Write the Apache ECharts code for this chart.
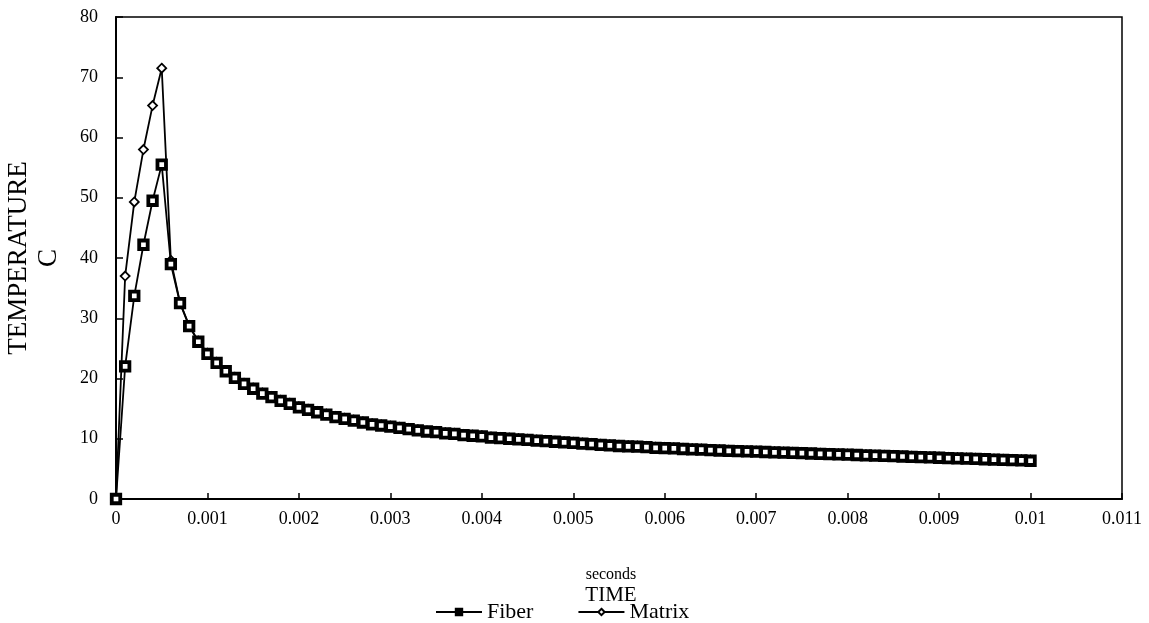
<!DOCTYPE html>
<html>
<head>
<meta charset="utf-8">
<script src="https://cdn.jsdelivr.net/npm/echarts@6/dist/echarts.min.js"></script>
<style>
  html, body { margin: 0; padding: 0; background: #fff; }
  #chart { width: 1149px; height: 623px; }
</style>
</head>
<body>
<div id="chart"></div>
<script>
// time step of the samples (seconds)
var timeStep = 0.0001;

// temperature (C), one value per 0.0001 s
var fiber = [
  0, 22.0, 33.7, 42.2, 49.5, 55.5, 39.0, 32.5, 28.7, 26.1,
  24.1, 22.6, 21.2, 20.1, 19.1, 18.3, 17.5, 16.9, 16.3, 15.8,
  15.2, 14.8, 14.4, 14.0, 13.6, 13.3, 13.0, 12.7, 12.4, 12.2,
  12.0, 11.8, 11.6, 11.4, 11.2, 11.1, 10.9, 10.8, 10.6, 10.5,
  10.4, 10.2, 10.1, 10.0, 9.9, 9.8, 9.7, 9.6, 9.5, 9.4,
  9.3, 9.2, 9.1, 9.0, 8.9, 8.8, 8.75, 8.7, 8.6, 8.5,
  8.45, 8.4, 8.3, 8.25, 8.2, 8.1, 8.05, 8.0, 7.95, 7.9,
  7.85, 7.8, 7.75, 7.7, 7.65, 7.6, 7.55, 7.5, 7.45, 7.4,
  7.35, 7.3, 7.25, 7.2, 7.15, 7.1, 7.05, 7.0, 6.95, 6.9,
  6.85, 6.8, 6.75, 6.7, 6.65, 6.6, 6.55, 6.5, 6.45, 6.4,
  6.35
];
var matrix = [
  0, 37.0, 49.3, 58.0, 65.3, 71.5, 39.6, 32.6, 28.8, 26.2,
  24.2, 22.7, 21.3, 20.2, 19.2, 18.4, 17.6, 17.0, 16.4, 15.9,
  15.3, 14.9, 14.5, 14.1, 13.7, 13.4, 13.1, 12.8, 12.5, 12.3,
  12.1, 11.9, 11.7, 11.5, 11.3, 11.2, 11.0, 10.9, 10.7, 10.6,
  10.5, 10.3, 10.2, 10.1, 10.0, 9.9, 9.8, 9.7, 9.6, 9.5,
  9.4, 9.3, 9.2, 9.1, 9.0, 8.9, 8.85, 8.8, 8.7, 8.6,
  8.55, 8.5, 8.4, 8.35, 8.3, 8.2, 8.15, 8.1, 8.05, 8.0,
  7.95, 7.9, 7.85, 7.8, 7.75, 7.7, 7.65, 7.6, 7.55, 7.5,
  7.45, 7.4, 7.35, 7.3, 7.25, 7.2, 7.15, 7.1, 7.05, 7.0,
  6.95, 6.9, 6.85, 6.8, 6.75, 6.7, 6.65, 6.6, 6.55, 6.5,
  6.45
];

function pairs(values) {
  return values.map(function (v, i) { return [+(i * timeStep).toFixed(4), v]; });
}

var font = '"Liberation Serif", "DejaVu Serif", serif';
var chart = echarts.init(document.getElementById('chart'));

chart.setOption({
  animation: false,
  textStyle: { fontFamily: font, color: '#000' },
  grid: {
    left: 116, right: 27, top: 17, bottom: 124,
    outerBoundsMode: 'none',
    containLabel: false,
    show: true, borderColor: '#000', borderWidth: 1.5, backgroundColor: '#fff'
  },
  legend: {
    bottom: -5,
    left: 430,
    itemWidth: 46,
    itemHeight: 8,
    itemGap: 44,
    textStyle: { fontFamily: font, fontSize: 22, color: '#000' },
    data: [
      { name: 'Fiber', itemStyle: { color: '#000', borderColor: '#000' } },
      { name: 'Matrix' }
    ]
  },
  xAxis: {
    type: 'value',
    min: 0,
    max: 0.011,
    interval: 0.001,
    name: '{a|seconds}\n{b|TIME}',
    nameLocation: 'middle',
    nameGap: 67,
    nameTextStyle: {
      padding: [0, 16, 0, 0],
      rich: {
        a: { fontFamily: font, fontSize: 16, color: '#000', lineHeight: 18 },
        b: { fontFamily: font, fontSize: 21, color: '#000', lineHeight: 22 }
      }
    },
    axisLine: { lineStyle: { color: '#000', width: 2 } },
    axisTick: { inside: true, length: 6, lineStyle: { color: '#000', width: 1.5 } },
    axisLabel: {
      fontFamily: font, fontSize: 18, color: '#000', margin: 11,
      formatter: function (v) { return String(+v.toFixed(3)); }
    },
    splitLine: { show: false }
  },
  yAxis: {
    type: 'value',
    min: 0,
    max: 80,
    interval: 10,
    name: '{a|TEMPERATURE}\n{b|C}',
    nameLocation: 'middle',
    nameRotate: 90,
    nameGap: 52,
    nameTextStyle: {
      rich: {
        a: { fontFamily: font, fontSize: 27, color: '#000', lineHeight: 30 },
        b: { fontFamily: font, fontSize: 27, color: '#000', lineHeight: 30 }
      }
    },
    axisLine: { lineStyle: { color: '#000', width: 2 } },
    axisTick: { inside: true, length: 7, lineStyle: { color: '#000', width: 1.5 } },
    axisLabel: { fontFamily: font, fontSize: 18, color: '#000', margin: 18 },
    splitLine: { show: false }
  },
  series: [
    {
      name: 'Matrix',
      type: 'line',
      data: pairs(matrix),
      symbol: 'diamond',
      symbolSize: 9,
      showAllSymbol: true,
      lineStyle: { color: '#000', width: 1.8 },
      itemStyle: { color: '#fff', borderColor: '#000', borderWidth: 1.8 },
      z: 2
    },
    {
      name: 'Fiber',
      type: 'line',
      data: pairs(fiber),
      symbol: 'rect',
      symbolSize: 8.5,
      showAllSymbol: true,
      lineStyle: { color: '#000', width: 1.8 },
      itemStyle: { color: '#fff', borderColor: '#000', borderWidth: 3.8 },
      z: 3
    }
  ]
});
</script>
</body>
</html>
